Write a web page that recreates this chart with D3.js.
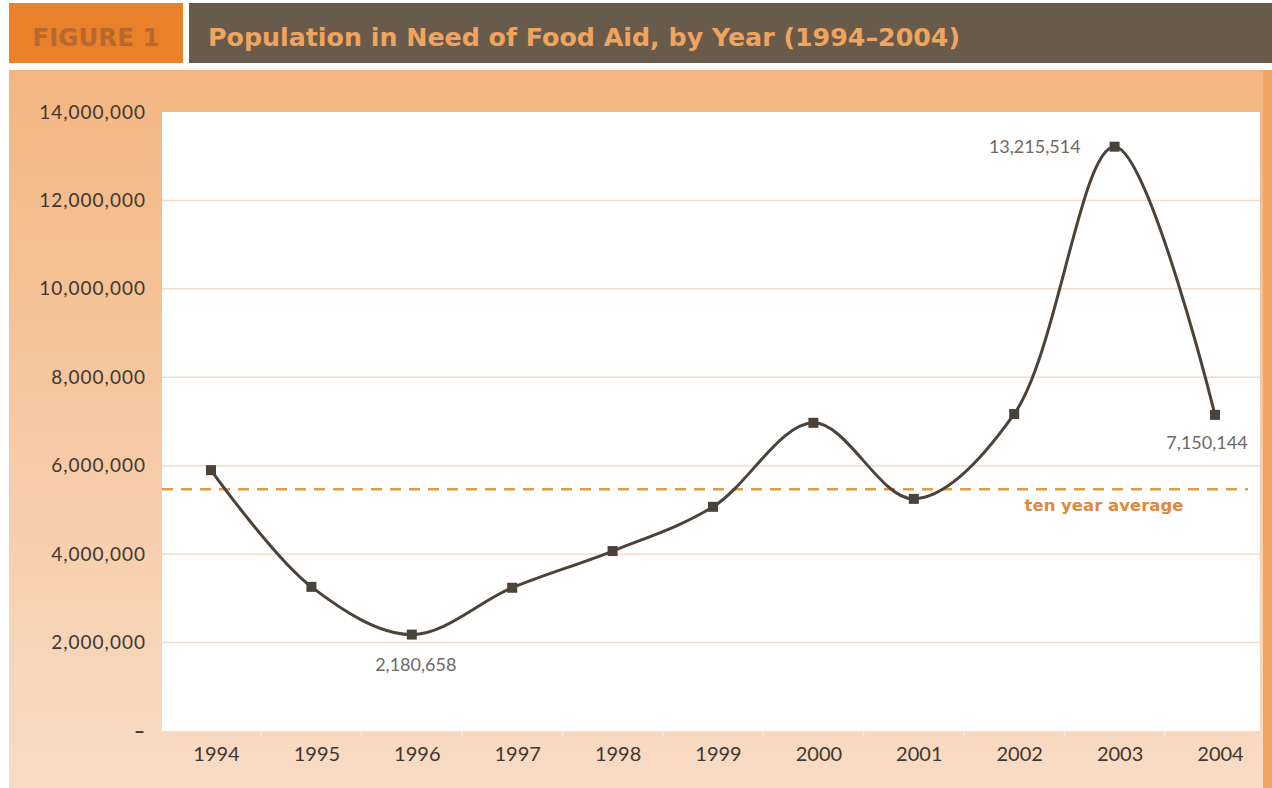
<!DOCTYPE html>
<html>
<head>
<meta charset="utf-8">
<script src="https://cdn.jsdelivr.net/npm/d3@7"></script>
<style>
  html, body { margin: 0; padding: 0; background: #ffffff; }
  svg { display: block; }
</style>
</head>
<body>
<svg id="chart" width="1272" height="788"></svg>
<script>
// Population in need of food aid, 1994–2004
const years = ["1994", "1995", "1996", "1997", "1998", "1999", "2000", "2001", "2002", "2003", "2004"];
const population = [5900000, 3260000, 2180658, 3240000, 4070000, 5070000, 6970000, 5250000, 7170000, 13215514, 7150144];
const tenYearAverage = 5470000;
const yTicks = [0, 2000000, 4000000, 6000000, 8000000, 10000000, 12000000, 14000000];
// Points whose value is written next to the marker
const labelledYears = ["1996", "2003", "2004"];

const svg = d3.select("#chart");
const W = 1272, H = 788;
const plot = { left: 162, right: 1260, top: 112, bottom: 731 };

const defs = svg.append("defs");
const grad = defs.append("linearGradient").attr("id", "bg").attr("x1", 0).attr("y1", 0).attr("x2", 0).attr("y2", 1);
grad.append("stop").attr("offset", "0%").attr("stop-color", "#f3b681");
grad.append("stop").attr("offset", "100%").attr("stop-color", "#f9dcc5");

// Header bar
svg.append("rect").attr("x", 9).attr("y", 3).attr("width", 174).attr("height", 60).attr("fill", "#e8812a");
svg.append("rect").attr("x", 189).attr("y", 3).attr("width", W - 189).attr("height", 60).attr("fill", "#685b4b");
svg.append("text").attr("x", 96).attr("y", 46).attr("text-anchor", "middle")
  .attr("font-family", "DejaVu Sans").attr("font-weight", "bold").attr("font-size", 24.5)
  .attr("fill", "#b8682f").text("FIGURE 1");
svg.append("text").attr("x", 208).attr("y", 46)
  .attr("font-family", "DejaVu Sans").attr("font-weight", "bold").attr("font-size", 25.3)
  .attr("fill", "#f0a45e").text("Population in Need of Food Aid, by Year (1994–2004)");

// Peach panel behind the chart
svg.append("rect").attr("x", 9).attr("y", 70).attr("width", W - 9).attr("height", H - 70).attr("fill", "url(#bg)");
svg.append("rect").attr("x", 1263).attr("y", 70).attr("width", 9).attr("height", H - 70).attr("fill", "#efa565");

// White plotting area
svg.append("rect").attr("x", plot.left).attr("y", plot.top)
  .attr("width", plot.right - plot.left).attr("height", plot.bottom - plot.top).attr("fill", "#ffffff");

const x = d3.scalePoint().domain(years).range([211, 1215]);
const y = d3.scaleLinear().domain([0, 14000000]).range([plot.bottom, plot.top]);

// Gridlines
svg.append("g").selectAll("line")
  .data(yTicks.filter(d => d > 0 && d < 14000000))
  .join("line")
  .attr("x1", plot.left).attr("x2", plot.right)
  .attr("y1", d => y(d)).attr("y2", d => y(d))
  .attr("stroke", "#f3dcc8").attr("stroke-width", 1.5);

// Y axis
const yAxis = svg.append("g").attr("transform", `translate(${plot.left - 13},0)`)
  .call(d3.axisLeft(y).tickValues(yTicks).tickSize(0)
    .tickFormat(d => d === 0 ? "–" : d3.format(",")(d)));
yAxis.select(".domain").remove();
yAxis.selectAll("text")
  .attr("font-family", "Lato").attr("font-size", 19).attr("fill", "#3f3731")
  .attr("letter-spacing", 1)
  .attr("font-weight", d => d === 0 ? 900 : 400);

// X axis
const xAxis = svg.append("g").attr("transform", `translate(0,${plot.bottom})`)
  .call(d3.axisBottom(x).tickSize(0).tickPadding(16));
xAxis.select(".domain").remove();
xAxis.selectAll("text")
  .attr("dx", 5)
  .attr("font-family", "Lato").attr("font-size", 20).attr("fill", "#3f3731");

// Faint separators between the year columns
const step = x.step();
svg.append("g").selectAll("line")
  .data(years.slice(1))
  .join("line")
  .attr("x1", d => x(d) - step / 2).attr("x2", d => x(d) - step / 2)
  .attr("y1", plot.bottom).attr("y2", plot.bottom + 6)
  .attr("stroke", "#fbe8d8").attr("stroke-width", 1.5);

// Ten year average
svg.append("line")
  .attr("x1", plot.left).attr("x2", plot.right - 12)
  .attr("y1", y(tenYearAverage)).attr("y2", y(tenYearAverage))
  .attr("stroke", "#e29a43").attr("stroke-width", 2.5).attr("stroke-dasharray", "11,8");
svg.append("text").attr("x", 1104).attr("y", y(tenYearAverage) + 22).attr("text-anchor", "middle")
  .attr("font-family", "DejaVu Sans").attr("font-weight", "bold").attr("font-size", 16.5)
  .attr("fill", "#e0893a").text("ten year average");

// Population line
const pts = years.map((yr, i) => ({ year: yr, value: population[i] }));
const line = d3.line().x(d => x(d.year)).y(d => y(d.value)).curve(d3.curveCatmullRom.alpha(0.5));
svg.append("path").datum(pts).attr("d", line)
  .attr("fill", "none").attr("stroke", "#4b433a").attr("stroke-width", 3);

svg.append("g").selectAll("rect")
  .data(pts).join("rect")
  .attr("x", d => x(d.year) - 5).attr("y", d => y(d.value) - 5)
  .attr("width", 10).attr("height", 10).attr("fill", "#4b433a");

// Value labels
const labelPos = {
  "1996": { dx: 4, dy: 36, anchor: "middle" },
  "2003": { dx: -34, dy: 6, anchor: "end" },
  "2004": { dx: -8, dy: 34, anchor: "middle" }
};
svg.append("g").selectAll("text")
  .data(pts.filter(d => labelledYears.includes(d.year))).join("text")
  .attr("x", d => x(d.year) + labelPos[d.year].dx)
  .attr("y", d => y(d.value) + labelPos[d.year].dy)
  .attr("text-anchor", d => labelPos[d.year].anchor)
  .attr("font-family", "Lato").attr("font-size", 18).attr("fill", "#6f6963")
  .text(d => d3.format(",")(d.value));
</script>
</body>
</html>
